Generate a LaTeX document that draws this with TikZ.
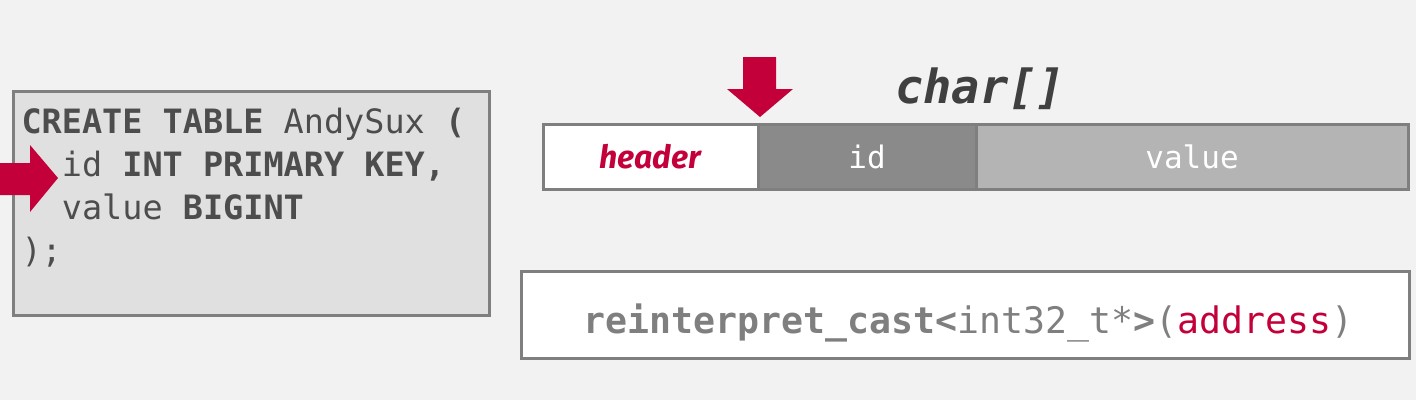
\documentclass[tikz,border=0pt]{standalone}
\usepackage{fontspec}
\setmainfont{Fira Sans}
\setmonofont{DejaVu Sans Mono}
\usepackage{tikz}
\usetikzlibrary{
    backgrounds,
    calc,
    positioning,
}
\definecolor{ptrred}{HTML}{C4003A}
\definecolor{boxgray}{HTML}{7F7F7F}
\definecolor{sqlgray}{HTML}{4D4D4D}
\definecolor{idgray}{HTML}{8A8A8A}
\definecolor{valgray}{HTML}{B4B4B4}
\definecolor{slidebg}{HTML}{F2F2F2}
\tikzset{every picture/.style={line width=3pt}}
\tikzset{
    cell/.style={draw=boxgray, minimum height=65pt, inner sep=0pt, outer sep=0pt,
        anchor=north west, text=white, font=\ttfamily\fontsize{31}{31}\selectfont},
    sqlline/.style={anchor=base west, inner sep=0pt, text=sqlgray,
        font=\ttfamily\fontsize{33.5}{33.5}\selectfont},
    ptr/.style={fill=ptrred, draw=none},
}

\begin{document}
\begin{tikzpicture}[x=1pt, y=-1pt]
    \fill[slidebg] (0,0) rectangle (1416,400);
    \useasboundingbox (0,0) rectangle (1416,400);

    % schema on the left
    \node[draw=boxgray, fill=black!12, minimum width=476pt, minimum height=224pt,
        inner sep=0pt, anchor=north west] (sqlbox) at (12,90) {};
    \node[sqlline] (line1) at (20,133) {\textbf{CREATE TABLE} AndySux \textbf{(}};
    \node[sqlline] (line2) at (20,176) {\phantom{xx}id \textbf{INT PRIMARY KEY,}};
    \node[sqlline] (line3) at (20,219) {\phantom{xx}value \textbf{BIGINT}};
    \node[sqlline] (line4) at (20,262) {);};
    \fill[ptr] (0,163) -- (30,163) -- (30,145) -- (58,178) -- (30,212) -- (30,195) -- (0,195) -- cycle;

    % tuple layout
    \node[cell, fill=white, minimum width=215pt, text=ptrred] (hdr) at (543,124)
        {\bfseries\itshape\rmfamily\fontsize{32}{32}\selectfont header};
    \node[cell, fill=idgray, minimum width=218pt, right=0pt of hdr] (idcol) {id};
    \node[cell, fill=valgray, minimum width=432pt, right=0pt of idcol] (valcol) {value};
    \node[anchor=base, inner sep=0pt, text=black!75,
        font=\ttfamily\bfseries\itshape\fontsize{47}{47}\selectfont] (chartitle) at (980,103) {char[]};
    \fill[ptr] (743,57) -- (776,57) -- (776,89) -- (793,89) -- (760,117) -- (727,89) -- (743,89) -- cycle;

    % cast
    \node[draw=boxgray, fill=white, minimum width=888pt, minimum height=87pt,
        inner sep=0pt, anchor=north west] (castbox) at (520,270) {};
    \node[anchor=base, inner sep=0pt, text=boxgray, font=\ttfamily\fontsize{36.5}{36.5}\selectfont]
        (casttext) at ([xshift=3pt, yshift=-18pt]castbox.center)
        {\textbf{reinterpret\_cast<}int32\_t*\textbf{>}(\textcolor{ptrred}{address})};
\end{tikzpicture}
\end{document}
